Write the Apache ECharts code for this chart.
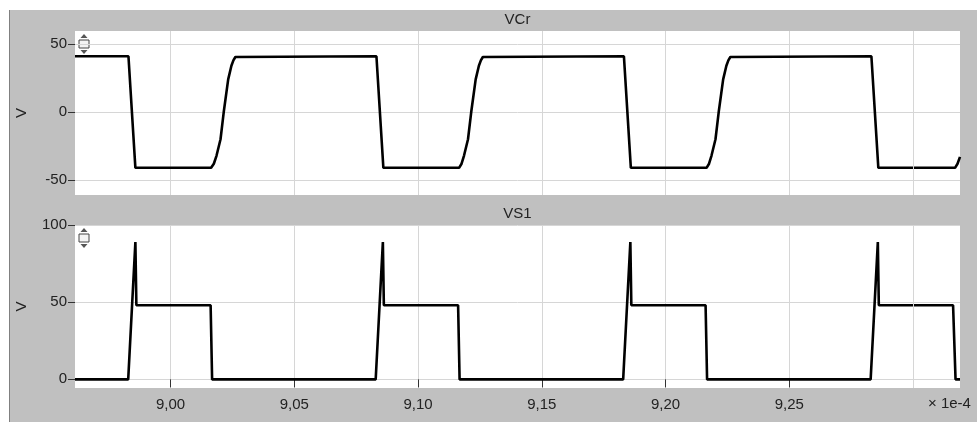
<!DOCTYPE html>
<html>
<head>
<meta charset="utf-8">
<script src="https://cdn.jsdelivr.net/npm/echarts@6/dist/echarts.min.js"></script>
<style>
  html, body { margin: 0; padding: 0; background: #fff; }
  #chart { width: 977px; height: 422px; }
</style>
</head>
<body>
<div id="chart"></div>
<script>
// time axis is in units of 1e-4 s
const xRange = [8.9614, 9.319]
const xTicks = [9.00, 9.05, 9.10, 9.15, 9.20, 9.25]
// grid line with no label (hidden under the unit text)
const xGridOnly = [9.30]

const vcrRange = [-61, 59.6]
const vcrTicks = [-50, 0, 50]
const vcrPoints = [
  [8.9614, 41],
  [8.9830, 41], [8.9858, -41],
  [9.0164, -41], [9.0175, -38], [9.0186, -32], [9.0202, -20], [9.0215, 0], [9.0233, 24], [9.0246, 34], [9.0254, 38], [9.0262, 40.5], [9.0270, 41],
  [9.0832, 41], [9.0860, -41],
  [9.1166, -41], [9.1176, -38], [9.1186, -32], [9.1202, -20], [9.1215, 0], [9.1233, 24], [9.1246, 34], [9.1254, 38], [9.1262, 40.5], [9.1270, 41],
  [9.1832, 41], [9.1860, -41],
  [9.2166, -41], [9.2176, -38], [9.2186, -32], [9.2202, -20], [9.2215, 0], [9.2233, 24], [9.2246, 34], [9.2254, 38], [9.2262, 40.5], [9.2270, 41],
  [9.2832, 41], [9.2860, -41],
  [9.3170, -41], [9.3180, -38], [9.3190, -33]
]

const vs1Range = [-5.6, 100]
const vs1Ticks = [0, 50, 100]
const vs1Points = [
  [8.9614, 0],
  [8.9829, 0], [8.9858, 89], [8.9862, 48], [9.0162, 48], [9.0168, 0],
  [9.0829, 0], [9.0858, 89], [9.0862, 48], [9.1162, 48], [9.1168, 0],
  [9.1829, 0], [9.1858, 89], [9.1862, 48], [9.2162, 48], [9.2168, 0],
  [9.2829, 0], [9.2858, 89], [9.2862, 48], [9.3162, 48], [9.3172, 0],
  [9.3190, 0]
]

const panels = [
  { name: 'VCr', top: 31, height: 164, titleY: 20 },
  { name: 'VS1', top: 225, height: 163, titleY: 214 }
]
const plotLeft = 75
const plotWidth = 885
const font = 'Liberation Sans'
const textColor = '#222'
const gridColor = '#d6d6d6'

const chart = echarts.init(document.getElementById('chart'))

function xAxisFor (index, showLabels) {
  return {
    type: 'value',
    gridIndex: index,
    min: xRange[0],
    max: xRange[1],
    axisLine: { show: false },
    axisTick: {
      show: showLabels,
      length: 8,
      customValues: xTicks,
      lineStyle: { color: '#333' }
    },
    axisLabel: {
      show: showLabels,
      customValues: xTicks,
      margin: 9,
      color: textColor,
      fontFamily: font,
      fontSize: 15,
      formatter: v => v.toFixed(2).replace('.', ',')
    },
    splitLine: { show: true, lineStyle: { color: gridColor, width: 1 } }
  }
}

function yAxisFor (index, range, ticks) {
  return {
    type: 'value',
    gridIndex: index,
    min: range[0],
    max: range[1],
    name: 'V',
    nameLocation: 'middle',
    nameRotate: 90,
    nameGap: 46,
    nameTextStyle: { color: textColor, fontFamily: font, fontSize: 15 },
    axisLine: { show: false },
    axisTick: {
      show: true,
      length: 7,
      customValues: ticks,
      lineStyle: { color: '#333' }
    },
    axisLabel: {
      customValues: ticks,
      margin: 8,
      color: textColor,
      fontFamily: font,
      fontSize: 15
    },
    splitLine: { show: true, lineStyle: { color: gridColor, width: 1 } }
  }
}

// small scale icon in the corner of each plot
function scaleIcon (top) {
  const cx = plotLeft + 9
  return [
    { type: 'polygon', shape: { points: [[cx, top + 3], [cx - 3.5, top + 7], [cx + 3.5, top + 7]] }, style: { fill: '#555' } },
    { type: 'rect', shape: { x: cx - 5, y: top + 9, width: 10, height: 8 }, style: { fill: '#f4f4f4', stroke: '#444', lineWidth: 1 } },
    { type: 'polygon', shape: { points: [[cx - 3.5, top + 19], [cx + 3.5, top + 19], [cx, top + 23]] }, style: { fill: '#555' } }
  ]
}

const graphics = [
  { type: 'rect', shape: { x: 0, y: 0, width: 977, height: 10 }, style: { fill: '#fff' } },
  { type: 'rect', shape: { x: 0, y: 0, width: 9, height: 422 }, style: { fill: '#fff' } },
  { type: 'line', shape: { x1: 9.5, y1: 10, x2: 9.5, y2: 422 }, style: { stroke: '#808080', lineWidth: 1 } },
  {
    type: 'text',
    x: 928,
    y: 404,
    style: { text: '× 1e-4', fill: textColor, font: '15px ' + font, textVerticalAlign: 'middle' }
  }
]
panels.forEach(p => {
  graphics.push({
    type: 'text',
    x: plotLeft + plotWidth / 2,
    y: p.titleY,
    style: { text: p.name, fill: textColor, font: '15px ' + font, textAlign: 'center', textVerticalAlign: 'middle' }
  })
  graphics.push(...scaleIcon(p.top))
})

const extraGridLines = {
  silent: true,
  symbol: 'none',
  label: { show: false },
  lineStyle: { color: gridColor, width: 1, type: 'solid' },
  data: xGridOnly.map(v => ({ xAxis: v }))
}

const option = {
  backgroundColor: '#c0c0c0',
  animation: false,
  grid: panels.map(p => ({
    left: plotLeft,
    top: p.top,
    width: plotWidth,
    height: p.height,
    show: true,
    backgroundColor: '#fff',
    borderWidth: 0
  })),
  xAxis: [xAxisFor(0, false), xAxisFor(1, true)],
  yAxis: [yAxisFor(0, vcrRange, vcrTicks), yAxisFor(1, vs1Range, vs1Ticks)],
  series: [
    {
      name: 'VCr',
      type: 'line',
      xAxisIndex: 0,
      yAxisIndex: 0,
      data: vcrPoints,
      showSymbol: false,
      clip: true,
      z: 3,
      lineStyle: { color: '#000', width: 2.6 },
      markLine: extraGridLines
    },
    {
      name: 'VS1',
      type: 'line',
      xAxisIndex: 1,
      yAxisIndex: 1,
      data: vs1Points,
      showSymbol: false,
      clip: true,
      z: 3,
      lineStyle: { color: '#000', width: 2.6 },
      markLine: extraGridLines
    }
  ],
  graphic: graphics
}

chart.setOption(option)
</script>
</body>
</html>
